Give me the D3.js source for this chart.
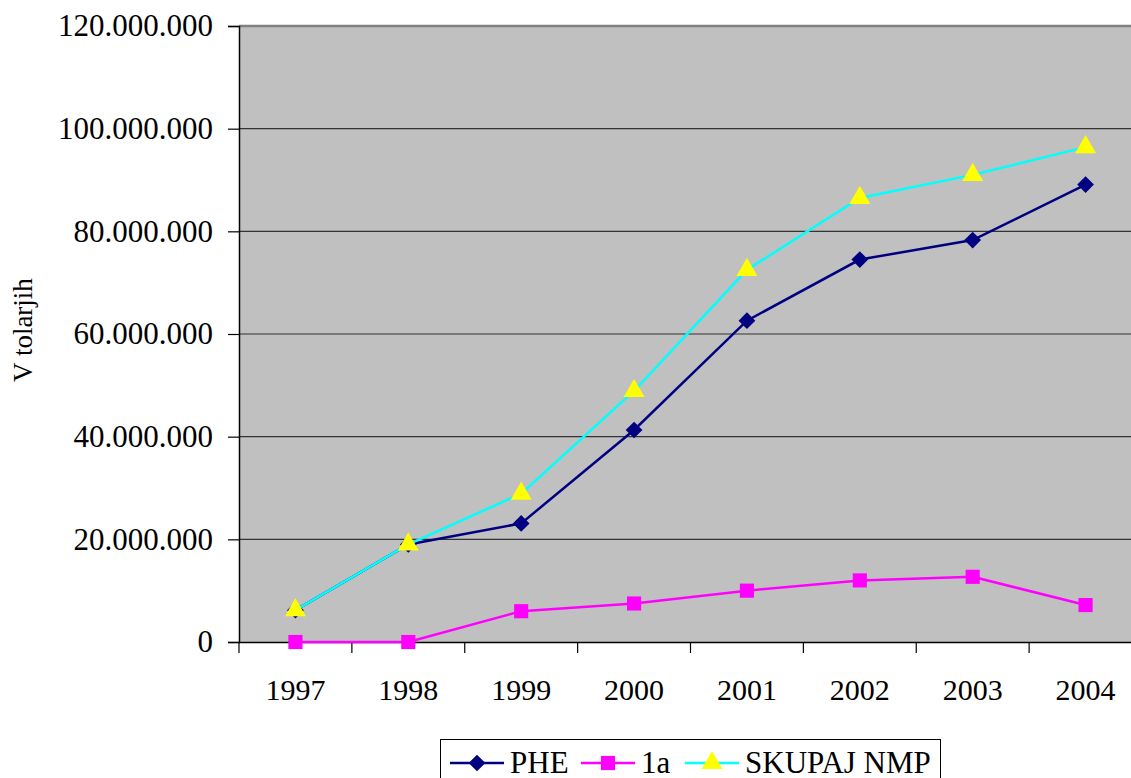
<!DOCTYPE html>
<html>
<head>
<meta charset="utf-8">
<script src="https://cdn.jsdelivr.net/npm/d3@7"></script>
<style>
  body { margin: 0; background: #fff; }
  svg { display: block; font-family: "Liberation Serif", "Times New Roman", serif; }
</style>
</head>
<body>
<script>
var years = ["1997", "1998", "1999", "2000", "2001", "2002", "2003", "2004"];
var phe = [6200000, 19000000, 23100000, 41300000, 62600000, 74500000, 78300000, 89100000];
var prva = [0, 0, 6000000, 7500000, 10000000, 12000000, 12700000, 7200000];
var skupaj = [6200000, 19000000, 28900000, 48900000, 72500000, 86500000, 91000000, 96400000];
var yTicks = [0, 20000000, 40000000, 60000000, 80000000, 100000000, 120000000];

var w = 1131;
var h = 778;
var plotLeft = 239, plotTop = 26, plotBottom = 642, plotRight = 1142;

var svg = d3.select("body")
    .append("svg")
    .attr("width", w)
    .attr("height", h);

var xScale = d3.scaleBand()
    .domain(years)
    .range([plotLeft, plotRight]);

var yScale = d3.scaleLinear()
    .domain([0, 120000000])
    .range([plotBottom, plotTop]);

// plot background
svg.append("rect")
    .attr("x", plotLeft)
    .attr("y", plotTop)
    .attr("width", plotRight - plotLeft)
    .attr("height", plotBottom - plotTop)
    .attr("fill", "#c0c0c0");

// gridlines
svg.selectAll("line.grid")
    .data(yTicks.slice(1))
    .enter()
    .append("line")
    .attr("class", "grid")
    .attr("x1", plotLeft)
    .attr("x2", plotRight)
    .attr("y1", function(d) { return yScale(d); })
    .attr("y2", function(d) { return yScale(d); })
    .attr("stroke", function(d) { return d === 120000000 ? "#808080" : "#333"; })
    .attr("stroke-width", function(d) { return d === 120000000 ? 2.5 : 1.2; });

var fmt = function(d) {
    return d3.format(",")(d).replace(/,/g, ".");
};

var yAxis = d3.axisLeft(yScale)
    .tickValues(yTicks)
    .tickSize(11)
    .tickPadding(15)
    .tickFormat(fmt);

var xAxis = d3.axisBottom(xScale)
    .tickSize(0)
    .tickPadding(37);

var gx = svg.append("g")
    .attr("transform", "translate(0," + plotBottom + ")")
    .call(xAxis);
gx.select(".domain").attr("stroke", "#000").attr("stroke-width", 1.5);
gx.selectAll("text")
    .attr("font-size", "30px")
    .attr("font-family", "Liberation Serif")
    .attr("fill", "#000");

// category boundary ticks
svg.selectAll("line.xtick")
    .data(years)
    .enter()
    .append("line")
    .attr("class", "xtick")
    .attr("x1", function(d) { return xScale(d); })
    .attr("x2", function(d) { return xScale(d); })
    .attr("y1", plotBottom)
    .attr("y2", plotBottom + 11)
    .attr("stroke", "#000")
    .attr("stroke-width", 1.2);

var gy = svg.append("g")
    .attr("transform", "translate(" + plotLeft + ",0)")
    .call(yAxis);
gy.select(".domain").attr("stroke", "#000").attr("stroke-width", 1.5);
gy.selectAll(".tick line").attr("stroke-width", 1.2);
gy.selectAll("text")
    .attr("font-size", "31px")
    .attr("font-family", "Liberation Serif")
    .attr("fill", "#000");

svg.append("text")
    .attr("transform", "translate(32,330) rotate(-90)")
    .attr("text-anchor", "middle")
    .attr("font-size", "27px")
    .text("V tolarjih");

var cx = function(d, i) { return xScale(years[i]) + xScale.bandwidth() / 2; };

var series = [
    { name: "PHE", values: phe, line: "#000080", fill: "#000080", shape: d3.symbolSquare, size: 140, rot: 45 },
    { name: "1a", values: prva, line: "#ff00ff", fill: "#ff00ff", shape: d3.symbolSquare, size: 200, rot: 0 },
    { name: "SKUPAJ NMP", values: skupaj, line: "#00ffff", fill: "#ffff00", shape: d3.symbolTriangle, size: 190, rot: 0 }
];

var line = d3.line()
    .x(cx)
    .y(function(d) { return yScale(d); });

series.forEach(function(s) {
    svg.append("path")
        .datum(s.values)
        .attr("d", line)
        .attr("fill", "none")
        .attr("stroke", s.line)
        .attr("stroke-width", 2.5);
    svg.selectAll(null)
        .data(s.values)
        .enter()
        .append("path")
        .attr("d", d3.symbol().type(s.shape).size(s.size))
        .attr("transform", function(d, i) {
            return "translate(" + cx(d, i) + "," + yScale(d) + ") rotate(" + s.rot + ")";
        })
        .attr("fill", s.fill);
});

// legend
var legend = svg.append("g");
legend.append("rect")
    .attr("x", 440.5)
    .attr("y", 739.5)
    .attr("width", 500)
    .attr("height", 50)
    .attr("fill", "#fff")
    .attr("stroke", "#000")
    .attr("stroke-width", 1);

var legendX = [450, 581, 685];
series.forEach(function(s, i) {
    var x0 = legendX[i];
    var g = legend.append("g").attr("transform", "translate(" + x0 + ",763)");
    g.append("line")
        .attr("x1", 0).attr("x2", 54)
        .attr("y1", 0).attr("y2", 0)
        .attr("stroke", s.line)
        .attr("stroke-width", 2.5);
    g.append("path")
        .attr("d", d3.symbol().type(s.shape).size(s.size))
        .attr("transform", "translate(27,0) rotate(" + s.rot + ")")
        .attr("fill", s.fill);
    g.append("text")
        .attr("x", 60)
        .attr("y", 10)
        .attr("font-size", "31px")
        .text(s.name);
});
</script>
</body>
</html>
